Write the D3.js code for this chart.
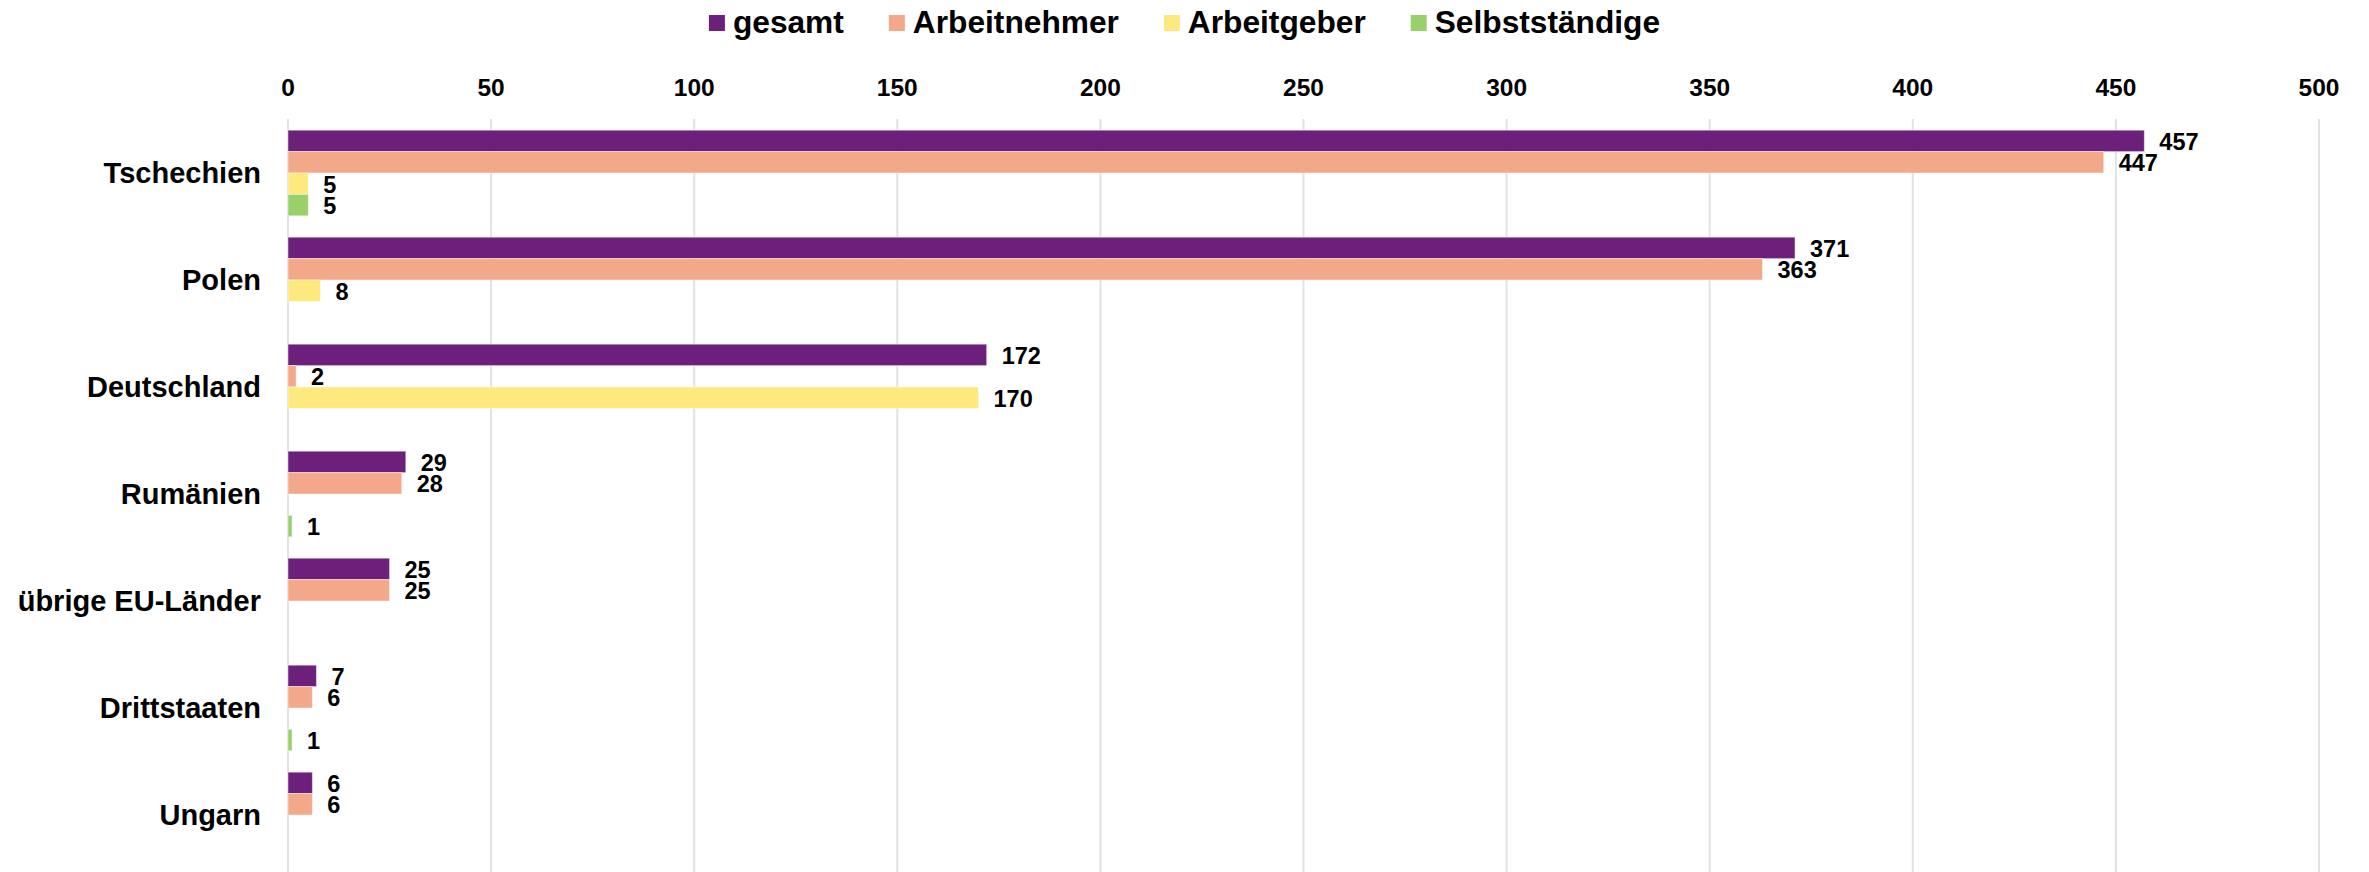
<!DOCTYPE html>
<html lang="de">
<head>
  <meta charset="UTF-8" />
  <title>Entsendungen nach Herkunftsland</title>
  <script src="https://d3js.org/d3.v7.min.js"></script>
  <style>
    body {
      margin: 0;
      background-color: #ffffff;
      font-family: 'Liberation Sans', Arial, sans-serif;
    }
    svg { display: block; }
    .tick-label { font-size: 24.5px; font-weight: bold; fill: #000; }
    .cat-label { font-size: 29px; font-weight: bold; fill: #000; }
    .value-label { font-size: 23.5px; font-weight: bold; fill: #000; }
    .legend-label { font-size: 31.7px; font-weight: bold; fill: #000; }
  </style>
</head>
<body>
<div id="chart"></div>

<script>
const countries = ["Tschechien", "Polen", "Deutschland", "Rumänien", "übrige EU-Länder", "Drittstaaten", "Ungarn"];
const seriesNames = ["gesamt", "Arbeitnehmer", "Arbeitgeber", "Selbstständige"];
const seriesColors = ["#6c1f7b", "#f4a88a", "#fde97d", "#98d06a"];

// null = kein Wert
const gesamt          = [457, 371, 172, 29, 25, 7, 6];
const arbeitnehmer    = [447, 363, 2, 28, 25, 6, 6];
const arbeitgeber     = [5, 8, 170, null, null, null, null];
const selbststaendige = [5, null, null, 1, null, 1, null];

const xTicks = [0, 50, 100, 150, 200, 250, 300, 350, 400, 450, 500];

const seriesValues = [gesamt, arbeitnehmer, arbeitgeber, selbststaendige];

const width = 2369, height = 872;

const svg = d3.select("#chart").append("svg")
  .attr("width", width)
  .attr("height", height);

const x = d3.scaleLinear().domain([0, 500]).range([288, 2319]);

const y = d3.scaleBand()
  .domain(countries)
  .range([119.5, 868.5])
  .paddingInner(0.2)
  .paddingOuter(0.1);

const ySub = d3.scaleBand()
  .domain(seriesNames)
  .range([0, y.bandwidth()]);

// gridlines
svg.append("g")
  .selectAll("line")
  .data(xTicks)
  .enter()
  .append("line")
  .attr("x1", d => x(d))
  .attr("x2", d => x(d))
  .attr("y1", 119)
  .attr("y2", height)
  .attr("stroke", "#e2e2e2")
  .attr("stroke-width", 2);

// top tick labels
svg.append("g")
  .selectAll("text")
  .data(xTicks)
  .enter()
  .append("text")
  .attr("class", "tick-label")
  .attr("x", d => x(d))
  .attr("y", 96)
  .attr("text-anchor", "middle")
  .text(d => d);

// category labels
svg.append("g")
  .selectAll("text")
  .data(countries)
  .enter()
  .append("text")
  .attr("class", "cat-label")
  .attr("x", 261)
  .attr("y", d => y(d) + y.bandwidth() / 2 + 10)
  .attr("text-anchor", "end")
  .text(d => d);

// bars
const cells = [];
countries.forEach((c, i) => {
  seriesNames.forEach((s, j) => {
    const v = seriesValues[j][i];
    if (v !== null) cells.push({ country: c, series: s, color: seriesColors[j], value: v });
  });
});

svg.append("g")
  .selectAll("rect")
  .data(cells)
  .enter()
  .append("rect")
  .attr("x", x(0))
  .attr("y", d => y(d.country) + ySub(d.series))
  .attr("width", d => x(d.value) - x(0))
  .attr("height", ySub.bandwidth())
  .attr("fill", d => d.color)
  .attr("stroke", "rgba(255,255,255,0.45)")
  .attr("stroke-width", 1);

svg.append("g")
  .selectAll("text")
  .data(cells)
  .enter()
  .append("text")
  .attr("class", "value-label")
  .attr("x", d => x(d.value) + 15)
  .attr("y", d => y(d.country) + ySub(d.series) + ySub.bandwidth() / 2 + 9)
  .text(d => d.value);

// legend
const legend = svg.append("g");
let lx = 0;
seriesNames.forEach((s, j) => {
  const item = legend.append("g").attr("transform", `translate(${lx},0)`);
  item.append("rect")
    .attr("x", 0).attr("y", 15)
    .attr("width", 16).attr("height", 16)
    .attr("fill", seriesColors[j]);
  const t = item.append("text")
    .attr("class", "legend-label")
    .attr("x", 24)
    .attr("y", 33)
    .text(s);
  lx += 24 + t.node().getComputedTextLength() + 45;
});
const legendWidth = lx - 45;
legend.attr("transform", `translate(${(width - legendWidth) / 2},0)`);
</script>
</body>
</html>
